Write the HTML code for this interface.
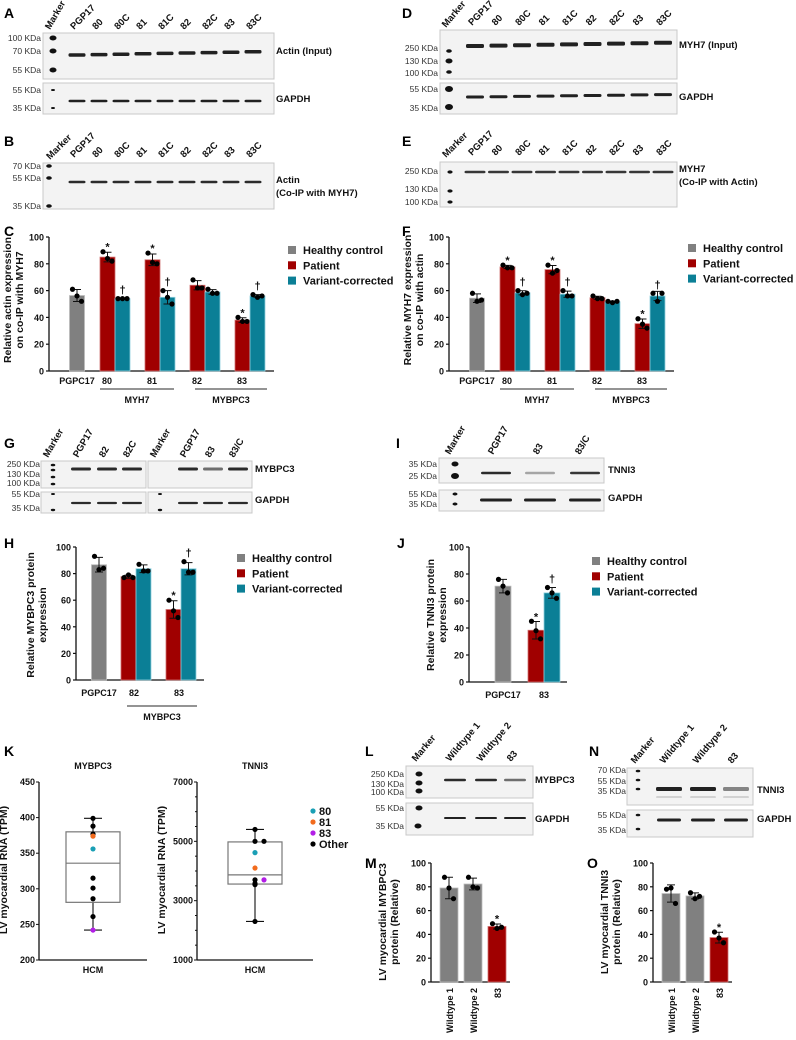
<!DOCTYPE html>
<html><head><meta charset="utf-8"><style>
html,body{margin:0;padding:0;background:#fff}
svg{display:block;font-family:"Liberation Sans",Arial,sans-serif}
.t{font-size:9px;font-weight:bold;fill:#111}
.k{font-size:8.5px;fill:#333}
.lg{font-size:11px;font-weight:bold;fill:#111}
.pl{font-size:14px;font-weight:bold;fill:#000}
.bl{font-size:9.5px;font-weight:bold;fill:#111}
.yl{font-size:10.5px;font-weight:bold;fill:#111}
</style></head><body>
<svg id="fig" width="796" height="1040" viewBox="0 0 796 1040"></svg>
<script>
// ---------- data ----------
const lanes9 = ["PGP17","80","80C","81","81C","82","82C","83","83C"];
const groupCats = ["80","81","82","83"];
const cCtrl = [61,56,52];
const cPat = [[89,84,82],[88,81,80],[68,62,62],[40,37,37]];
const cVar = [[54,54,54],[60,55,50],[61,58,58],[57,55,56]];
const fCtrl = [58,52,53];
const fPat = [[79,77,77],[79,73,75],[56,54,54],[39,35,32]];
const fVar = [[60,57,58],[60,56,56],[52,51,52],[58,52,58]];
const hCats = ["82","83"];
const hCtrl = [93,83,84];
const hPat = [[77,79,77],[60,52,47]];
const hVar = [[87,82,82],[89,81,81]];
const jCtrl = [76,71,66];
const jPat = [[45,38,32]];
const jVar = [[70,66,62]];
const mCats = ["Wildtype 1","Wildtype 2","83"];
const mVals = [[88,79,70],[88,80,79],[49,45,46]];
const oVals = [[78,79,66],[75,70,72],[42,37,33]];
const yTicks = [0,20,40,60,80,100];
const kMyVals = [399,388,377,374,356,315,301,286,261,242];
const kMyCls  = ["o","o","o","81","80","o","o","o","o","83"];
const kMyBox = [242,281,336,380,399]; // min,q1,med,q3,max
const kTnVals = [5400,5000,5000,4620,4100,3700,3580,3540,3700,2300];
const kTnCls  = ["o","o","o","80","81","o","o","o","83","o"];
const kTnBox = [2300,3560,3870,4980,5400];
const kMyTicks = [200,250,300,350,400,450];
const kTnTicks = [1000,3000,5000,7000];
</script>
<script>
const S="http://www.w3.org/2000/svg", fig=document.getElementById('fig');
function mk(tag,at,par){const e=document.createElementNS(S,tag);for(const k in at)e.setAttribute(k,at[k]);(par||fig).appendChild(e);return e;}
function tx(x,y,s,cls,extra){const e=mk('text',Object.assign({x:x,y:y,class:cls},extra||{}));e.textContent=s;return e;}
const GRAY="#808080",RED="#a00000",TEAL="#0b7f96";
const mean=a=>a.reduce((p,c)=>p+c,0)/a.length;
const sd=a=>{const m=mean(a);return Math.sqrt(a.reduce((p,c)=>p+(c-m)*(c-m),0)/(a.length-1));};

// panel letters
[["A",4,18],["D",402,18],["B",4,146],["E",402,146],["C",4,236],["F",402,236],["G",4,448],["I",396,448],["H",4,548],["J",397,548],["K",4,756],["L",365,756],["N",589,756],["M",365,868],["O",587,868]].forEach(p=>{
  const e=tx(p[1],p[2],p[0],'pl');
  
  
});

// ---------- blots ----------
function blotBox(x,y,w,h,name){
  const r=mk('rect',{x:x,y:y,width:w,height:h,fill:'#f3f3f3',stroke:'#c8c8c8','stroke-width':1});
  
  
}
function band(cx,cy,w,h,op,name){
  const r=mk('rect',{x:cx-w/2,y:cy-h/2,width:w,height:h,rx:1.5,fill:'#151515',opacity:op});
  
  
}
function markerDot(cx,cy,r,name){
  const e=mk('ellipse',{cx:cx,cy:cy,rx:r+1,ry:r,fill:'#111'});
  
  
}
function kda(xr,y,s){const e=tx(xr,y+3,s,'k',{'text-anchor':'end'});
  
  }
function laneLabel(x,y,s,ang){const e=tx(x,y,s,'bl',{transform:`rotate(${ang||-45} ${x} ${y})`});
  
  }
function protLabel(x,y,s){const e=tx(x,y+3,s,'bl');
  
  }

// A
laneLabel(50,30,"Marker",-60);
lanes9.forEach((l,i)=>laneLabel(74+i*22,30,l));
blotBox(43,33,231,46,'blot-a-actin');blotBox(43,83,231,31,'blot-a-gapdh');
[38,51,70].forEach(y=>markerDot(53,y,2.5,'marker-band'));markerDot(53,90,1,'marker-band');markerDot(53,108,1,'marker-band');
lanes9.forEach((l,i)=>{band(77+i*22,55-i*0.4,17,3.5,0.95,'band-actin');band(77+i*22,101,17,2.5,0.95,'band-gapdh');});
[[38,"100 KDa"],[51,"70 KDa"],[70,"55 KDa"],[90,"55 KDa"],[108,"35 KDa"]].forEach(a=>kda(41,a[0],a[1]));
protLabel(276,51,"Actin (Input)");protLabel(276,99,"GAPDH");
// B
laneLabel(50,160,"Marker",-45);
lanes9.forEach((l,i)=>laneLabel(74+i*22,158,l));
blotBox(43,163,231,46,'blot-b-actin-coip');
[166,178,206].forEach(y=>markerDot(49,y,1.8,'marker-band'));
lanes9.forEach((l,i)=>band(77+i*22,182,17,2.5,0.9,'band-actin-coip'));
[[166,"70 KDa"],[178,"55 KDa"],[206,"35 KDa"]].forEach(a=>kda(41,a[0],a[1]));
protLabel(276,180,"Actin");protLabel(276,193,"(Co-IP with MYH7)");
// D
laneLabel(446,28,"Marker",-50);
lanes9.forEach((l,i)=>laneLabel(472+i*23.5,26,l));
blotBox(440,30,237,49,'blot-d-myh7');blotBox(440,83,237,31,'blot-d-gapdh');
[[51,1.8],[61,2.5],[72,1.8],[89,3],[107,3]].forEach(a=>markerDot(449,a[0],a[1],'marker-band'));
lanes9.forEach((l,i)=>{band(475+i*23.5,46-i*0.4,18,4,0.95,'band-myh7');band(475+i*23.5,97-i*0.3,18,3,0.95,'band-gapdh');});
[[48,"250 KDa"],[61,"130 KDa"],[73,"100 KDa"],[89,"55 KDa"],[108,"35 KDa"]].forEach(a=>kda(438,a[0],a[1]));
protLabel(679,45,"MYH7  (Input)");protLabel(679,97,"GAPDH");
// E
laneLabel(446,158,"Marker",-45);
lanes9.forEach((l,i)=>laneLabel(472+i*23.5,156,l));
blotBox(440,162,237,45,'blot-e-myh7-coip');
[172,191,202].forEach(y=>markerDot(450,y,1.6,'marker-band'));
lanes9.forEach((l,i)=>band(475+i*23.5,172,21,2.5,0.85,'band-myh7-coip'));
[[171,"250 KDa"],[189,"130 KDa"],[202,"100 KDa"]].forEach(a=>kda(438,a[0],a[1]));
protLabel(679,169,"MYH7");protLabel(679,182,"(Co-IP with Actin)");
// G
[[48,"Marker"],[78,"PGP17"],[104,"82"],[128,"82C"],[155,"Marker"],[185,"PGP17"],[210,"83"],[234,"83/C"]].forEach(a=>laneLabel(a[0],458,a[1],-60));
blotBox(41,461,105,27,'blot-g-mybpc3-left');blotBox(148,461,104,27,'blot-g-mybpc3-right');
blotBox(41,492,105,21,'blot-g-gapdh-left');blotBox(148,492,104,21,'blot-g-gapdh-right');
[465,470,477,484].forEach(y=>markerDot(53,y,1.3,'marker-band'));markerDot(53,494,1,'marker-band');markerDot(53,510,1.2,'marker-band');markerDot(160,494,1,'marker-band');markerDot(160,510,1.2,'marker-band');
[81,107,132].forEach((x,i)=>{band(x,469,20,3,0.9,'band-mybpc3');band(x,503,20,2.2,0.9,'band-gapdh');});
[[188,0.9],[213,0.6],[238,0.9]].forEach(a=>{band(a[0],469,20,3,a[1],'band-mybpc3');band(a[0],503,20,2.2,0.9,'band-gapdh');});
[[464,"250 KDa"],[474,"130 KDa"],[483,"100 KDa"],[494,"55 KDa"],[508,"35 KDa"]].forEach(a=>kda(40,a[0],a[1]));
protLabel(255,469,"MYBPC3");protLabel(255,500,"GAPDH");
// I
[[450,"Marker"],[493,"PGP17"],[538,"83"],[580,"83/C"]].forEach(a=>laneLabel(a[0],455,a[1],-60));
blotBox(439,458,165,25,'blot-i-tnni3');blotBox(439,490,165,21,'blot-i-gapdh');
markerDot(455,464,2.5,'marker-band');markerDot(455,476,3,'marker-band');markerDot(455,494,1.5,'marker-band');markerDot(455,504,1.5,'marker-band');
[[496,0.9],[540,0.35],[585,0.85]].forEach(a=>{band(a[0],473,30,2.5,a[1],'band-tnni3');band(a[0],500,32,3,0.95,'band-gapdh');});
[[464,"35 KDa"],[476,"25 KDa"],[494,"55 KDa"],[504,"35 KDa"]].forEach(a=>kda(437,a[0],a[1]));
protLabel(608,470,"TNNI3");protLabel(608,498,"GAPDH");
// L
[[416,"Marker"],[450,"Wildtype 1"],[481,"Wildtype 2"],[511,"83"]].forEach(a=>laneLabel(a[0],762,a[1],-50));
blotBox(406,766,127,32,'blot-l-mybpc3');blotBox(406,803,127,32,'blot-l-gapdh');
[774,783,791,808].forEach(y=>markerDot(419,y,2.5,'marker-band'));markerDot(418,826,2.5,'marker-band');
[[455,0.9],[486,0.9],[515,0.6]].forEach(a=>{band(a[0],780,22,2.5,a[1],'band-mybpc3');band(a[0],818,22,2,0.95,'band-gapdh');});
[[774,"250 KDa"],[784,"130 KDa"],[792,"100 KDa"],[808,"55 KDa"],[826,"35 KDa"]].forEach(a=>kda(404,a[0],a[1]));
protLabel(535,780,"MYBPC3");protLabel(535,819,"GAPDH");
// N
[[635,"Marker"],[664,"Wildtype 1"],[697,"Wildtype 2"],[732,"83"]].forEach(a=>laneLabel(a[0],764,a[1],-50));
blotBox(627,768,126,37,'blot-n-tnni3');blotBox(627,810,126,27,'blot-n-gapdh');
[771,780,789,815,829].forEach(y=>markerDot(638,y,1.3,'marker-band'));
[[669,0.95],[703,0.95],[736,0.5]].forEach(a=>{band(a[0],789,26,4,a[1],'band-tnni3');band(a[0],797,26,1.5,0.2,'band-tnni3-faint');band(a[0],820,24,3,0.95,'band-gapdh');});
[[770,"70 KDa"],[781,"55 KDa"],[791,"35 KDa"],[815,"55 KDa"],[830,"35 KDa"]].forEach(a=>kda(626,a[0],a[1]));
protLabel(757,790,"TNNI3");protLabel(757,819,"GAPDH");

// ---------- bar charts ----------
function axes(ox,y0,y100,xend,ticks,max,key){
  const ys=v=>y0-(v/max)*(y0-y100);
  const ya=mk('line',{x1:ox,y1:y100,x2:ox,y2:y0,stroke:'#111','stroke-width':1.3});
  
  
  const xa=mk('line',{x1:ox,y1:y0,x2:xend,y2:y0,stroke:'#111','stroke-width':1.3});
  
  
  ticks.forEach(t=>{
    const l=mk('line',{x1:ox-3,y1:ys(t),x2:ox,y2:ys(t),stroke:'#111','stroke-width':1.2});
    
    
    const e=tx(ox-5,ys(t)+3.5,String(t),'t',{'text-anchor':'end'});
    
    
  });
  return ys;
}
function bar(cx,w,vals,ys,y0,col,name,mark){
  const m=mean(vals),s=sd(vals);
  const r=mk('rect',{x:cx-w/2,y:ys(m),width:w,height:y0-ys(m),fill:col,stroke:col==GRAY?'#bbb':(col==RED?'#d07070':'#8fd0de'),'stroke-width':0.8});
  
  
  const eb=mk('path',{d:`M${cx},${ys(m-s)}V${ys(m+s)}M${cx-4},${ys(m+s)}H${cx+4}M${cx-4},${ys(m-s)}H${cx+4}`,stroke:'#111','stroke-width':1,fill:'none'});
  
  
  const offs=[-4.5,0,4.5];
  vals.forEach((v,i)=>{
    const c=mk('circle',{cx:cx+offs[i],cy:ys(v),r:2.6,fill:'#000'});
    
    
  });
  if(mark){const e=tx(cx,ys(Math.max(...vals))-5+(mark=="*"?4:0),mark,'lg',{'text-anchor':'middle','font-size':mark=="*"?'15':'12'});
    
    }
}
function legend(x,y,key){
  [["Healthy control",GRAY],["Patient",RED],["Variant-corrected",TEAL]].forEach((a,i)=>{
    const r=mk('rect',{x:x,y:y+i*15.3-4,width:8,height:8,fill:a[1]});
    
    
    const t=tx(x+15,y+i*15.3+4,a[0],'lg');
    
    
  });
}
function ylab(x,yc,lines,key){
  lines.forEach((s,i)=>{const e=tx(x+i*12,yc,s,'yl',{'text-anchor':'middle',transform:`rotate(-90 ${x+i*12} ${yc})`});
    
    });
}
function xlab(x,y,s,key){const e=tx(x,y,s,'t',{'text-anchor':'middle','font-size':'10'});
  
  }
function gline(x1,x2,y,lbl,key){
  const l=mk('line',{x1:x1,y1:y,x2:x2,y2:y,stroke:'#555','stroke-width':1.2});
  
  
  const t=tx((x1+x2)/2,y+14,lbl,'t',{'text-anchor':'middle','font-size':'10'});
  
  
}
function coipChart(ox,ctrl,pat,vr,key,ytitle,stars){
  const y0=371,y100=237;
  const ys=axes(ox,y0,y100,ox+225,yTicks,100,key);
  const gx=i=>ox+66+i*45;
  bar(ox+28,15,ctrl,ys,y0,GRAY,key+'-bar-pgpc17');
  xlab(ox+28,384,"PGPC17",key);
  groupCats.forEach((c,i)=>{
    bar(gx(i)-7.5,15,pat[i],ys,y0,RED,key+'-bar-patient-'+c,stars[0][i]);
    bar(gx(i)+7.5,15,vr[i],ys,y0,TEAL,key+'-bar-corrected-'+c,stars[1][i]);
    xlab(gx(i)-8,384,c,key);
  });
  gline(ox+51,ox+125,389,"MYH7",key);gline(ox+146,ox+218,389,"MYBPC3",key);
  ylab(ox-38,300,ytitle,key);
}
coipChart(49,cCtrl,cPat,cVar,'chart-c',["Relative actin expression","on co-IP with MYH7"],[["*","*","","*"],["†","†","","†"]]);
legend(288,250,'chart-c');
coipChart(449,fCtrl,fPat,fVar,'chart-f',["Relative MYH7 expression","on co-IP with actin"],[["*","*","","*"],["†","†","","†"]]);
legend(688,248,'chart-f');

// H
(function(){const ox=76,y0=680,y100=547,key='chart-h';
  const ys=axes(ox,y0,y100,204,yTicks,100,key);
  bar(99,15,hCtrl,ys,y0,GRAY,key+'-bar-pgpc17');xlab(99,696,"PGPC17",key);
  const gx=i=>136+i*45;
  hCats.forEach((c,i)=>{bar(gx(i)-7.5,15,hPat[i],ys,y0,RED,key+'-bar-patient-'+c,i==1?"*":"");
    bar(gx(i)+7.5,15,hVar[i],ys,y0,TEAL,key+'-bar-corrected-'+c,i==1?"†":"");
    xlab(gx(i)-2,696,c,key);});
  gline(127,197,706,"MYBPC3",key);
  ylab(34,615,["Relative MYBPC3 protein","expression"],key);
  legend(237,558,key);
})();
// J
(function(){const ox=469,y0=682,y100=547,key='chart-j';
  const ys=axes(ox,y0,y100,567,yTicks,100,key);
  bar(503,16,jCtrl,ys,y0,GRAY,key+'-bar-pgpc17');xlab(503,698,"PGPC17",key);
  bar(536,16,jPat[0],ys,y0,RED,key+'-bar-patient-83',"*");
  bar(552,16,jVar[0],ys,y0,TEAL,key+'-bar-corrected-83',"†");
  xlab(544,698,"83",key);
  ylab(434,615,["Relative TNNI3 protein","expression"],key);
  legend(592,561,key);
})();
// M, O
function wtChart(ox,vals,key,title){
  const y0=982,y100=863;
  const ys=axes(ox,y0,y100,ox+79,yTicks,100,key);
  mCats.forEach((c,i)=>{const cx=ox+18+i*24;
    bar(cx,18,vals[i],ys,y0,i==2?RED:GRAY,key+'-bar-'+c.replace(' ','-').toLowerCase(),i==2?"*":"");
    const e=tx(cx+4,988,c,'t',{'text-anchor':'end','font-size':'10',transform:`rotate(-90 ${cx+4} 988)`});
    
    
  });
  ylab(ox-45,922,title,key);
}
wtChart(431,mVals,'chart-m',["LV myocardial MYBPC3","protein (Relative)"]);
wtChart(653,oVals,'chart-o',["LV myocardial TNNI3","protein (Relative)"]);

// ---------- box plots ----------
const clsCol={"o":"#000","80":"#1a9fb5","81":"#f26b1d","83":"#b21ee6"};
function boxPlot(ox,xend,min,max,ticks,minor,vals,cls,bx,key,title){
  const y0=960,yt=782,ys=v=>y0-(v-min)/(max-min)*(y0-yt);
  const ya=mk('line',{x1:ox,y1:yt,x2:ox,y2:y0,stroke:'#111','stroke-width':1.3});
  
  
  const xa=mk('line',{x1:ox,y1:y0,x2:xend,y2:y0,stroke:'#111','stroke-width':1.3});
  
  
  ticks.forEach(t=>{const l=mk('line',{x1:ox-3,y1:ys(t),x2:ox,y2:ys(t),stroke:'#111'});
    
    
    const e=tx(ox-4,ys(t)+3,String(t),'t',{'text-anchor':'end','font-size':'8.5'});
    
    });
  minor.forEach(t=>{const l=mk('line',{x1:ox-2,y1:ys(t),x2:ox,y2:ys(t),stroke:'#111'});
    
    });
  const cx=(ox+xend)/2;
  const tl=tx(cx,769,title,'t',{'text-anchor':'middle'});
  
  
  const hx=tx(cx,973,"HCM",'t',{'text-anchor':'middle','font-size':'8.5'});
  
  
  const w=mk('path',{d:`M${cx},${ys(bx[0])}V${ys(bx[1])}M${cx},${ys(bx[3])}V${ys(bx[4])}M${cx-9},${ys(bx[0])}H${cx+9}M${cx-9},${ys(bx[4])}H${cx+9}`,stroke:'#111','stroke-width':1.1,fill:'none'});
  
  
  const b=mk('rect',{x:cx-27,y:ys(bx[3]),width:54,height:ys(bx[1])-ys(bx[3]),fill:'none',stroke:'#777','stroke-width':1.2});
  
  
  const md=mk('line',{x1:cx-27,y1:ys(bx[2]),x2:cx+27,y2:ys(bx[2]),stroke:'#777','stroke-width':1.2});
  
  
  const seen={};
  vals.forEach((v,i)=>{
    const k=Math.round(ys(v)/3);const n=seen[k]||0;seen[k]=n+1;
    const dx=n==0?0:(n%2?1:-1)*Math.ceil(n/2)*9;
    const c=mk('circle',{cx:cx+dx,cy:ys(v),r:2.6,fill:clsCol[cls[i]]});
    
    
  });
  ylab(ox-32,870,["LV myocardial RNA (TPM)"],key);
}
boxPlot(39,147,200,450,kMyTicks,[],kMyVals,kMyCls,kMyBox,'chart-k-mybpc3',"MYBPC3");
boxPlot(197,313,1000,7000,kTnTicks,[1500,2000,2500,3500,4000,4500,5500,6000,6500],kTnVals,kTnCls,kTnBox,'chart-k-tnni3',"TNNI3");
[["80","80"],["81","81"],["83","83"],["o","Other"]].forEach((a,i)=>{
  const c=mk('circle',{cx:313,cy:811+i*11,r:2.6,fill:clsCol[a[0]]});
  
  
  const t=tx(319,815+i*11,a[1],'lg',{'font-size':'10'});
  
  
});
</script>
</body></html>
